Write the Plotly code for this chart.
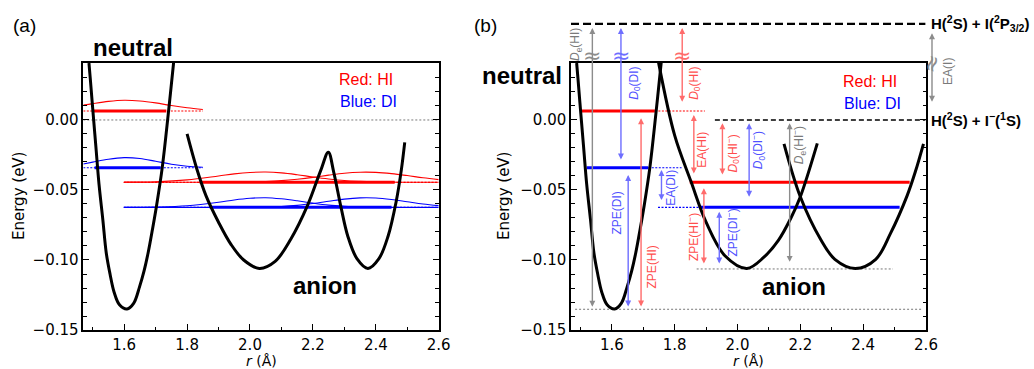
import plotly.graph_objects as go

# ---------------- data ----------------
NEUTRAL_R = [1.488, 1.492, 1.500, 1.510, 1.520, 1.532, 1.543, 1.555, 1.568, 1.585, 1.609,
             1.630, 1.649, 1.663, 1.676, 1.690, 1.703, 1.721, 1.740, 1.757, 1.762]
NEUTRAL_E = [0.0407, 0.030, 0.008, -0.019, -0.046, -0.071, -0.095, -0.110, -0.123, -0.132, -0.135,
             -0.131, -0.119, -0.108, -0.095, -0.078, -0.061, -0.034, 0.004, 0.0407, 0.051]

ANION_A_R = [1.800, 1.831, 1.860, 1.900, 1.940, 1.980, 2.030, 2.080, 2.130, 2.183, 2.225,
             2.249, 2.266, 2.290, 2.311, 2.340, 2.375, 2.410, 2.439, 2.465, 2.481, 2.492]
ANION_A_E = [-0.010, -0.035, -0.054, -0.073, -0.089, -0.100, -0.106, -0.101, -0.085, -0.061, -0.036,
             -0.023, -0.037, -0.063, -0.083, -0.099, -0.106, -0.099, -0.083, -0.058, -0.036, -0.016]

ANION_B1_R = [1.742, 1.749, 1.800, 1.852, 1.900, 1.960, 2.030, 2.084, 2.130, 2.170, 2.200, 2.254]
ANION_B1_E = [0.050, 0.0407, -0.011, -0.044, -0.073, -0.097, -0.106, -0.098, -0.086, -0.070, -0.0548, -0.0167]
ANION_B2_R = [2.148, 2.200, 2.264, 2.310, 2.375, 2.440, 2.487, 2.540, 2.566, 2.592]
ANION_B2_E = [-0.017, -0.0548, -0.085, -0.0995, -0.106, -0.0995, -0.081, -0.054, -0.037, -0.017]

E_HI, E_DI = 0.0064, -0.0341
E_HIM, E_DIM = -0.0445, -0.0624
E_NEU_MIN, E_AN_MIN = -0.1352, -0.1064
E_DISSOC = 0.0686
E_ZERO = 0.0

WAVE_NEU_R = [1.47, 1.50, 1.55, 1.60, 1.65, 1.70, 1.75, 1.80, 1.85]
WAVE_HI = [0.0106, 0.0117, 0.0133, 0.0141, 0.0136, 0.0122, 0.0103, 0.0087, 0.0075]
WAVE_DI = [-0.0314, -0.0301, -0.0280, -0.0269, -0.0275, -0.0295, -0.0316, -0.0330, -0.0338]
WAVE_AN_R = [1.60, 1.70, 1.80, 1.90, 1.95, 2.00, 2.05, 2.10, 2.15, 2.20, 2.25, 2.30, 2.35, 2.40,
             2.45, 2.50, 2.55, 2.60]
WAVE_HIM_1 = [-0.0444, -0.0441, -0.0428, -0.0400, -0.0385, -0.0375, -0.0372, -0.0378, -0.0391, -0.0407,
              -0.0421, -0.0432, -0.0438, -0.0442, -0.0444, -0.0445, -0.0445, -0.0445]
WAVE_HIM_2 = [-0.0445, -0.0445, -0.0445, -0.0445, -0.0444, -0.0443, -0.0439, -0.0433, -0.0423, -0.0410,
              -0.0394, -0.0380, -0.0373, -0.0374, -0.0383, -0.0397, -0.0413, -0.0426]
WAVE_DIM_1 = [-0.0624, -0.0622, -0.0613, -0.0588, -0.0571, -0.0559, -0.0555, -0.0563, -0.0577, -0.0594,
              -0.0608, -0.0616, -0.0621, -0.0623, -0.0624, -0.0624, -0.0624, -0.0624]
WAVE_DIM_2 = [-0.0624, -0.0624, -0.0624, -0.0624, -0.0624, -0.0623, -0.0622, -0.0618, -0.0610, -0.0597,
              -0.0581, -0.0565, -0.0556, -0.0557, -0.0568, -0.0584, -0.0600, -0.0612]

A_THICK = [("red", E_HI, 1.499, 1.734), ("blue", E_DI, 1.506, 1.716),
           ("red", E_HIM, 1.840, 2.460), ("blue", E_DIM, 1.872, 2.450)]
A_DOTTED = [("red", E_HI, 1.470, 1.850), ("blue", E_DI, 1.470, 1.850),
            ("red", E_HIM, 1.598, 2.600), ("blue", E_DIM, 1.598, 2.600)]
B_THICK = [("red", E_HI, 1.504, 1.737), ("blue", E_DI, 1.520, 1.716),
           ("red", E_HIM, 1.848, 2.548), ("blue", E_DIM, 1.880, 2.516)]
B_DOTTED = [("red", E_HI, 1.737, 1.896), ("blue", E_DI, 1.716, 1.822),
            ("blue", E_DIM, 1.747, 1.880)]
B_GRAY_DOTTED = [(E_AN_MIN, 1.870, 2.495), (E_NEU_MIN, 1.483, 2.589)]
B_ZERO_DASH = (E_ZERO, 1.928, 2.598)
B_TOP_DASH = (E_DISSOC, 1.470, 2.598)

ARROWS = [
    ("<i>D</i><sub>e</sub>(HI)", "gray", 1.538, -0.1345, 0.0657, 1.486, 0.0536),
    ("<i>D</i><sub>0</sub>(DI)", "blue", 1.629, -0.0293, 0.0657, 1.673, 0.0264),
    ("<i>D</i><sub>0</sub>(HI)", "red", 1.824, 0.0120, 0.0657, 1.864, 0.0264),
    ("ZPE(HI)", "red", 1.693, -0.1343, 0.0012, 1.727, -0.1048),
    ("ZPE(DI)", "blue", 1.652, -0.1343, -0.0393, 1.615, -0.0664),
    ("EA(HI)", "red", 1.861, -0.0393, 0.0036, 1.886, -0.0214),
    ("EA(DI)", "blue", 1.758, -0.0583, -0.0357, 1.790, -0.0488),
    ("ZPE(HI<sup>−</sup>)", "red", 1.893, -0.1036, -0.0488, 1.856, -0.0834),
    ("ZPE(DI<sup>−</sup>)", "blue", 1.942, -0.1036, -0.0655, 1.981, -0.0807),
    ("<i>D</i><sub>0</sub>(HI<sup>−</sup>)", "red", 1.952, -0.0400, -0.0024, 1.986, -0.0238),
    ("<i>D</i><sub>0</sub>(DI<sup>−</sup>)", "blue", 2.037, -0.0559, -0.0024, 2.066, -0.0214),
    ("<i>D</i><sub>e</sub>(HI<sup>−</sup>)", "gray", 2.166, -0.1024, -0.0024, 2.196, -0.0179),
]
EA_I = ("EA(I)", 0.0119, 0.0620, 0.0343)
BREAKS = [("gray", 1.538, 0.0464), ("blue", 1.629, 0.0464), ("red", 1.824, 0.0464)]
EA_I_BREAK_E = 0.0400

X_RANGE = [1.47, 2.60]
Y_RANGE = [-0.15, 0.0407]

# ---------------- layout geometry ----------------
W, H = 1034, 369
FA_L, FA_R = 83.3, 438.7
FB_L, FB_R = 571.0, 926.0
F_T, F_B = 63.0, 330.0

LEVEL_COL = {"red": "#ff0000", "blue": "#0000ff"}
ARROW_COL = {"red": "#ff6b6b", "blue": "#6e6eff", "gray": "#8c8c8c"}
LABEL_COL = {"red": "#ff4d4d", "blue": "#5050ff", "gray": "#7a7a7a"}
TXT = "Liberation Sans, Arial, sans-serif"
TICKF = "DejaVu Sans, sans-serif"

fig = go.Figure()


def line(x, y, xa, ya, color, width, dash=None, shape="spline"):
    fig.add_trace(go.Scatter(x=x, y=y, xaxis=xa, yaxis=ya, mode="lines",
                             line=dict(color=color, width=width, dash=dash, shape=shape),
                             hoverinfo="skip", showlegend=False))


# ---- panel (a): data on x / y
line([X_RANGE[0], X_RANGE[1]], [E_ZERO, E_ZERO], "x", "y", "#777777", 1, "2px,2px", "linear")
for c, e, r0, r1 in A_DOTTED:
    line([r0, r1], [e, e], "x", "y", LEVEL_COL[c], 1.2, "2px,1.5px", "linear")
line(WAVE_NEU_R, WAVE_HI, "x", "y", "#ff0000", 1.1)
line(WAVE_NEU_R, WAVE_DI, "x", "y", "#0000ff", 1.1)
for wy, c in [(WAVE_HIM_1, "#ff0000"), (WAVE_HIM_2, "#ff0000"),
              (WAVE_DIM_1, "#0000ff"), (WAVE_DIM_2, "#0000ff")]:
    line(WAVE_AN_R, wy, "x", "y", c, 1.1)
for c, e, r0, r1 in A_THICK:
    line([r0, r1], [e, e], "x", "y", LEVEL_COL[c], 3, None, "linear")
line(NEUTRAL_R, NEUTRAL_E, "x", "y", "black", 3)
line(ANION_A_R, ANION_A_E, "x", "y", "black", 3)

# ---- panel (b): data on hidden x2 / y2
for e, r0, r1 in B_GRAY_DOTTED:
    line([r0, r1], [e, e], "x2", "y2", "#777777", 1, "2px,2px", "linear")
line([B_ZERO_DASH[1], B_ZERO_DASH[2]], [B_ZERO_DASH[0]] * 2, "x2", "y2", "black", 1.3,
     "5px,3px", "linear")
for c, e, r0, r1 in B_DOTTED:
    line([r0, r1], [e, e], "x2", "y2", LEVEL_COL[c], 1.2, "2px,1.5px", "linear")
for c, e, r0, r1 in B_THICK:
    line([r0, r1], [e, e], "x2", "y2", LEVEL_COL[c], 3, None, "linear")
line(NEUTRAL_R, NEUTRAL_E, "x2", "y2", "black", 3)
line(ANION_B1_R, ANION_B1_E, "x2", "y2", "black", 3)
line(ANION_B2_R, ANION_B2_E, "x2", "y2", "black", 3)

# empty traces: frame/tick subplot of panel (b) and minor-tick overlays
for xa_, ya_ in [("x3", "y"), ("x", "y3"), ("x5", "y5"), ("x6", "y5"), ("x5", "y6")]:
    fig.add_trace(go.Scatter(x=[None], y=[None], xaxis=xa_, yaxis=ya_, mode="lines",
                             hoverinfo="skip", showlegend=False))

ydom = [1 - F_B / H, 1 - F_T / H]
tickfont = dict(family=TICKF, size=15, color="black")


def xaxis(dom, anchor):
    return dict(domain=dom, range=X_RANGE, anchor=anchor, showline=True, linecolor="black",
                linewidth=1.5, mirror=True, ticks="inside", ticklen=6, tickwidth=1.3,
                tickcolor="black", dtick=0.2, tick0=0, tickformat=".1f", showgrid=False,
                zeroline=False, tickfont=tickfont, layer="above traces")


def yaxis(anchor):
    return dict(domain=ydom, range=Y_RANGE, anchor=anchor, showline=True, linecolor="black",
                linewidth=1.5, mirror="ticks", ticks="inside", ticklen=6, tickwidth=1.3,
                tickcolor="black", dtick=0.05, tick0=0, tickformat=".2f", showgrid=False,
                zeroline=False, tickfont=tickfont, layer="above traces")


def xminor(over, anchor):
    return dict(overlaying=over, anchor=anchor, range=X_RANGE, dtick=0.1, tick0=0,
                ticks="inside", ticklen=3.5, tickwidth=1, tickcolor="black",
                showticklabels=False, showline=False, showgrid=False, zeroline=False, side="bottom")


def yminor(over, anchor):
    return dict(overlaying=over, anchor=anchor, range=Y_RANGE, dtick=0.01, tick0=0,
                ticks="inside", ticklen=3.5, tickwidth=1, tickcolor="black", mirror="ticks",
                showticklabels=False, showline=False, showgrid=False, zeroline=False, side="left")


def note(**kw):
    kw.setdefault("showarrow", False)
    kw.setdefault("xanchor", "center")
    kw.setdefault("yanchor", "middle")
    return kw


X_EDGE = X_RANGE[1] - 1e-6
Y_EDGE = Y_RANGE[1] - 1e-6
annotations = []


def arrow(r, lo, hi, col, xshift=0):
    annotations.append(dict(x=r, y=hi, ax=r, ay=lo, xref="x2", yref="y2", axref="x2", ayref="y2",
                            text="", showarrow=True, arrowhead=2, startarrowhead=2,
                            arrowside="end+start", arrowsize=0.85, startarrowsize=0.85,
                            arrowwidth=1.4, arrowcolor=col, standoff=0, startstandoff=0,
                            xshift=xshift))


def label_b(r, e, text, font, textangle=0, xanchor="center", xshift=0):
    if e <= Y_RANGE[1]:
        annotations.append(note(x=r, y=e, xref="x2", yref="y2", text=text, textangle=textangle,
                                xanchor=xanchor, xshift=xshift, font=font))
    else:
        # above the frame: hang the text on an invisible arrow whose head stays on the frame edge
        annotations.append(dict(x=r, y=Y_EDGE, ax=r, ay=e, xref="x2", yref="y2", axref="x2",
                                ayref="y2", text=text, textangle=textangle, showarrow=True,
                                arrowcolor="rgba(0,0,0,0)", arrowwidth=0.5, arrowhead=0,
                                xanchor=xanchor, yanchor="middle", xshift=xshift, font=font))


for lab, c, r, lo, hi, lr, le in ARROWS:
    arrow(r, lo, hi, ARROW_COL[c])
    label_b(lr, le, lab, dict(family=TXT, size=12, color=LABEL_COL[c]), textangle=-90)
arrow(X_EDGE, EA_I[1], EA_I[2], ARROW_COL["gray"], xshift=6)
label_b(X_EDGE, EA_I[3], EA_I[0], dict(family=TXT, size=12, color=LABEL_COL["gray"]),
        textangle=-90, xshift=22)
for c, r, e in BREAKS:
    label_b(r, e, "≈", dict(family="DejaVu Sans", size=22, color=ARROW_COL[c]))
label_b(X_EDGE, EA_I_BREAK_E, "≈", dict(family="DejaVu Sans", size=22, color=ARROW_COL["gray"]),
        textangle=-70, xshift=6)
label_b(X_EDGE, E_DISSOC, "<b>H(<sup>2</sup>S) + I(<sup>2</sup>P<sub>3/2</sub>)</b>",
        dict(family=TXT, size=15, color="black"), xanchor="left", xshift=3)
label_b(X_EDGE, E_ZERO, "<b>H(<sup>2</sup>S) + I<sup>−</sup>(<sup>1</sup>S)</b>",
        dict(family=TXT, size=15, color="black"), xanchor="left", xshift=3)

annotations += [
    note(x=2.237, y=-0.118, xref="x", yref="y", text="<b>anion</b>",
         font=dict(family=TXT, size=24, color="black")),
    note(x=2.179, y=-0.119, xref="x2", yref="y2", text="<b>anion</b>",
         font=dict(family=TXT, size=24, color="black")),
    note(x=2.370, y=0.0286, xref="x", yref="y", text="Red: HI",
         font=dict(family=TXT, size=16, color="#ff0000")),
    note(x=2.376, y=0.0131, xref="x", yref="y", text="Blue: DI",
         font=dict(family=TXT, size=16, color="#0000ff")),
    note(x=2.421, y=0.0274, xref="x2", yref="y2", text="Red: HI",
         font=dict(family=TXT, size=16, color="#ff0000")),
    note(x=2.430, y=0.0121, xref="x2", yref="y2", text="Blue: DI",
         font=dict(family=TXT, size=16, color="#0000ff")),
    note(x=133 / W, y=1 - 47 / H, xref="paper", yref="paper", text="<b>neutral</b>",
         font=dict(family=TXT, size=24, color="black")),
    note(x=522 / W, y=1 - 75 / H, xref="paper", yref="paper", text="<b>neutral</b>",
         font=dict(family=TXT, size=24, color="black")),
    note(x=24 / W, y=1 - 26 / H, xref="paper", yref="paper", text="(a)",
         font=dict(family=TXT, size=19, color="black")),
    note(x=485 / W, y=1 - 25 / H, xref="paper", yref="paper", text="(b)",
         font=dict(family=TXT, size=19, color="black")),
    note(x=19 / W, y=1 - 196 / H, xref="paper", yref="paper", text="Energy (eV)", textangle=-90,
         font=dict(family=TICKF, size=15, color="black")),
    note(x=504 / W, y=1 - 196 / H, xref="paper", yref="paper", text="Energy (eV)", textangle=-90,
         font=dict(family=TICKF, size=15, color="black")),
    note(x=(FA_L + FA_R) / 2 / W, y=1 - 360.5 / H, xref="paper", yref="paper", text="<i>r</i> (Å)",
         font=dict(family=TICKF, size=14, color="black")),
    note(x=(FB_L + FB_R) / 2 / W, y=1 - 360.5 / H, xref="paper", yref="paper", text="<i>r</i> (Å)",
         font=dict(family=TICKF, size=14, color="black")),
]

top_dom = (E_DISSOC - Y_RANGE[0]) / (Y_RANGE[1] - Y_RANGE[0])
shapes = [dict(type="line", xref="x2", x0=B_TOP_DASH[1], x1=B_TOP_DASH[2],
               yref="y2 domain", y0=top_dom, y1=top_dom,
               line=dict(color="black", width=2.3, dash="8px,4px"), layer="above")]

hidden = dict(visible=False, showline=False, showgrid=False, zeroline=False)
xdom_b = [FB_L / W, FB_R / W]
fig.update_layout(
    width=W, height=H, autosize=False,
    margin=dict(l=0, r=0, t=0, b=0, pad=0, autoexpand=False),
    paper_bgcolor="white", plot_bgcolor="rgba(0,0,0,0)",
    xaxis=xaxis([FA_L / W, FA_R / W], "y"), yaxis=yaxis("x"),
    xaxis3=xminor("x", "y"), yaxis3=yminor("y", "x"),
    xaxis2=dict(domain=xdom_b, range=X_RANGE, anchor="y2", **hidden),
    yaxis2=dict(domain=ydom, range=Y_RANGE, anchor="x2", **hidden),
    xaxis5=xaxis(xdom_b, "y5"), yaxis5=yaxis("x5"),
    xaxis6=xminor("x5", "y5"), yaxis6=yminor("y5", "x5"),
    annotations=annotations, shapes=shapes, showlegend=False,
)

fig.write_html("out.html")
